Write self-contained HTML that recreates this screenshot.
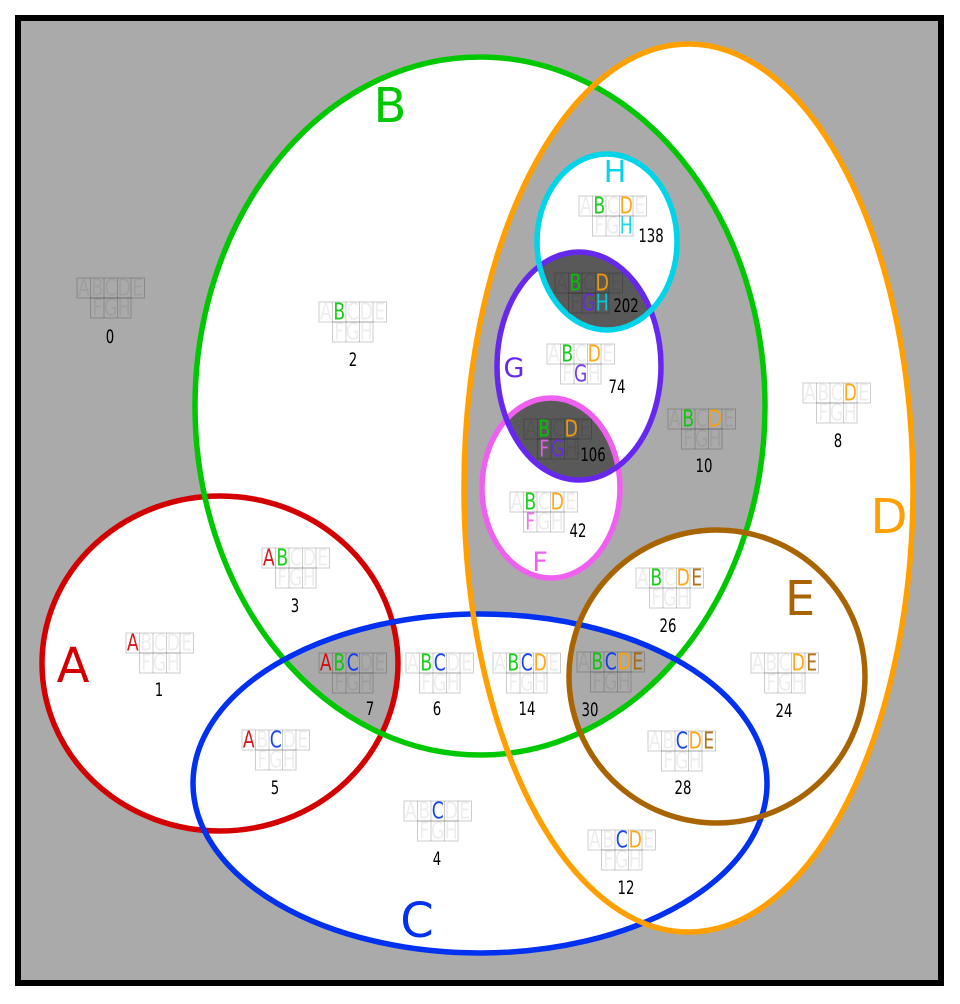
<!DOCTYPE html>
<html><head><meta charset="utf-8"><style>
html,body{margin:0;padding:0;background:#fff;}
svg{display:block;}
text{font-family:"DejaVu Sans","Liberation Sans",sans-serif;}
.bx text{font-size:23px;text-anchor:middle;}
.o{fill:rgba(0,0,0,0.07);}
.a{fill:#d40000;opacity:.9}.b{fill:#00c800;opacity:.9}.c{fill:#0030f0;opacity:.9}.d{fill:#ffa000;opacity:.9}
.e{fill:#a86400;opacity:.9}.f{fill:#f060f0;opacity:.9}.g{fill:#6628ee;opacity:.9}.h{fill:#00d4e8;opacity:.9}
.n{font-size:19px;text-anchor:middle;fill:#000;}
.big{text-anchor:middle;}
</style></head><body>
<svg width="960" height="1004" viewBox="0 0 960 1004" xmlns="http://www.w3.org/2000/svg">
<defs>
<clipPath id="cA"><ellipse cx="220" cy="663.5" rx="178" ry="167.5"/></clipPath>
<clipPath id="cB"><ellipse cx="480" cy="406" rx="285" ry="349"/></clipPath>
<clipPath id="cC"><ellipse cx="480" cy="783.5" rx="287" ry="169.5"/></clipPath>
<clipPath id="cD"><ellipse cx="688.5" cy="488" rx="224.5" ry="444"/></clipPath>
<clipPath id="cE"><ellipse cx="717" cy="676.5" rx="148" ry="146.5"/></clipPath>
<clipPath id="cG"><ellipse cx="579" cy="366" rx="82" ry="114"/></clipPath>
<g id="bx" fill="none" stroke="rgba(0,0,0,0.2)" stroke-width="1">
<rect x="0" y="0" width="67.5" height="20"/>
<path d="M13.5 0V20M27 0V40M40.5 0V40M54 0V20"/>
<rect x="13.5" y="20" width="40.5" height="20"/>
</g>
</defs>
<rect x="18" y="18" width="923" height="965" fill="#aaaaaa" stroke="#000" stroke-width="6"/>
<!-- white fills -->
<g fill="#fff">
<ellipse cx="220" cy="663.5" rx="178" ry="167.5"/>
<ellipse cx="480" cy="406" rx="285" ry="349"/>
<ellipse cx="688.5" cy="488" rx="224.5" ry="444"/>
</g>
<ellipse cx="688.5" cy="488" rx="224.5" ry="444" fill="#aaaaaa" clip-path="url(#cB)"/>
<g fill="#fff">
<ellipse cx="480" cy="783.5" rx="287" ry="169.5"/>
<ellipse cx="717" cy="676.5" rx="148" ry="146.5"/>
</g>
<g clip-path="url(#cA)"><ellipse cx="480" cy="783.5" rx="287" ry="169.5" fill="#aaaaaa" clip-path="url(#cB)"/></g>
<g clip-path="url(#cB)"><g clip-path="url(#cC)"><ellipse cx="717" cy="676.5" rx="148" ry="146.5" fill="#aaaaaa" clip-path="url(#cD)"/></g></g>
<ellipse cx="607" cy="242" rx="70" ry="88" fill="#fff"/>
<ellipse cx="579" cy="366" rx="82" ry="114" fill="#fff"/>
<ellipse cx="607" cy="242" rx="70" ry="88" fill="#595959" clip-path="url(#cG)"/>
<ellipse cx="551" cy="488" rx="69" ry="90" fill="#fff"/>
<ellipse cx="551" cy="488" rx="69" ry="90" fill="#595959" clip-path="url(#cG)"/>
<!-- outlines -->
<g fill="none" stroke-width="5.5">
<ellipse cx="220" cy="663.5" rx="178" ry="167.5" stroke="#d40000"/>
<ellipse cx="480" cy="406" rx="285" ry="349" stroke="#00c800"/>
<ellipse cx="480" cy="783.5" rx="287" ry="169.5" stroke="#0030f0"/>
<ellipse cx="688.5" cy="488" rx="224.5" ry="444" stroke="#ffa000"/>
<ellipse cx="717" cy="676.5" rx="148" ry="146.5" stroke="#a86400"/>
<ellipse cx="551" cy="488" rx="69" ry="90" stroke="#f060f0"/>
<ellipse cx="579" cy="366" rx="82" ry="114" stroke="#6628ee"/>
<ellipse cx="607" cy="242" rx="70" ry="88" stroke="#00d4e8"/>
</g>
<!-- big labels -->
<text class="big" x="73" y="682" font-size="48" fill="#d40000">A</text>
<text class="big" x="390" y="122" font-size="48" fill="#00c800">B</text>
<text class="big" x="417" y="937" font-size="48" fill="#0030f0">C</text>
<text class="big" x="889" y="533" font-size="48" fill="#ffa000">D</text>
<text class="big" x="800" y="615" font-size="48" fill="#a86400">E</text>
<text class="big" x="540" y="571" font-size="27" fill="#f060f0">F</text>
<text class="big" x="514" y="377" font-size="27" fill="#6628ee">G</text>
<text class="big" x="615" y="182" font-size="30" fill="#00d4e8">H</text>

<!-- boxes -->
<g class="bx" transform="translate(77,278)"><use href="#bx"/><g transform="scale(.75,1)"><text x="9 27 45 63 81" y="17.5"><tspan class="o">A</tspan><tspan class="o">B</tspan><tspan class="o">C</tspan><tspan class="o">D</tspan><tspan class="o">E</tspan></text><text x="27 45 63" y="37.5"><tspan class="o">F</tspan><tspan class="o">G</tspan><tspan class="o">H</tspan></text></g></g>
<text class="n" transform="translate(110,343) scale(.7,1)">0</text>

<g class="bx" transform="translate(319,302)"><use href="#bx"/><g transform="scale(.75,1)"><text x="9 27 45 63 81" y="17.5"><tspan class="o">A</tspan><tspan class="b">B</tspan><tspan class="o">C</tspan><tspan class="o">D</tspan><tspan class="o">E</tspan></text><text x="27 45 63" y="37.5"><tspan class="o">F</tspan><tspan class="o">G</tspan><tspan class="o">H</tspan></text></g></g>
<text class="n" transform="translate(353,366) scale(.7,1)">2</text>

<g class="bx" transform="translate(126,633)"><use href="#bx"/><g transform="scale(.75,1)"><text x="9 27 45 63 81" y="17.5"><tspan class="a">A</tspan><tspan class="o">B</tspan><tspan class="o">C</tspan><tspan class="o">D</tspan><tspan class="o">E</tspan></text><text x="27 45 63" y="37.5"><tspan class="o">F</tspan><tspan class="o">G</tspan><tspan class="o">H</tspan></text></g></g>
<text class="n" transform="translate(159,696) scale(.7,1)">1</text>

<g class="bx" transform="translate(242,730)"><use href="#bx"/><g transform="scale(.75,1)"><text x="9 27 45 63 81" y="17.5"><tspan class="a">A</tspan><tspan class="o">B</tspan><tspan class="c">C</tspan><tspan class="o">D</tspan><tspan class="o">E</tspan></text><text x="27 45 63" y="37.5"><tspan class="o">F</tspan><tspan class="o">G</tspan><tspan class="o">H</tspan></text></g></g>
<text class="n" transform="translate(275,794) scale(.7,1)">5</text>

<g class="bx" transform="translate(262,548)"><use href="#bx"/><g transform="scale(.75,1)"><text x="9 27 45 63 81" y="17.5"><tspan class="a">A</tspan><tspan class="b">B</tspan><tspan class="o">C</tspan><tspan class="o">D</tspan><tspan class="o">E</tspan></text><text x="27 45 63" y="37.5"><tspan class="o">F</tspan><tspan class="o">G</tspan><tspan class="o">H</tspan></text></g></g>
<text class="n" transform="translate(295,612) scale(.7,1)">3</text>

<g class="bx" transform="translate(319,653)"><use href="#bx"/><g transform="scale(.75,1)"><text x="9 27 45 63 81" y="17.5"><tspan class="a">A</tspan><tspan class="b">B</tspan><tspan class="c">C</tspan><tspan class="o">D</tspan><tspan class="o">E</tspan></text><text x="27 45 63" y="37.5"><tspan class="o">F</tspan><tspan class="o">G</tspan><tspan class="o">H</tspan></text></g></g>
<text class="n" transform="translate(370,715) scale(.7,1)">7</text>

<g class="bx" transform="translate(406,653)"><use href="#bx"/><g transform="scale(.75,1)"><text x="9 27 45 63 81" y="17.5"><tspan class="o">A</tspan><tspan class="b">B</tspan><tspan class="c">C</tspan><tspan class="o">D</tspan><tspan class="o">E</tspan></text><text x="27 45 63" y="37.5"><tspan class="o">F</tspan><tspan class="o">G</tspan><tspan class="o">H</tspan></text></g></g>
<text class="n" transform="translate(437,715) scale(.7,1)">6</text>

<g class="bx" transform="translate(493,653)"><use href="#bx"/><g transform="scale(.75,1)"><text x="9 27 45 63 81" y="17.5"><tspan class="o">A</tspan><tspan class="b">B</tspan><tspan class="c">C</tspan><tspan class="d">D</tspan><tspan class="o">E</tspan></text><text x="27 45 63" y="37.5"><tspan class="o">F</tspan><tspan class="o">G</tspan><tspan class="o">H</tspan></text></g></g>
<text class="n" transform="translate(527,715) scale(.7,1)">14</text>

<g class="bx" transform="translate(577,652)"><use href="#bx"/><g transform="scale(.75,1)"><text x="9 27 45 63 81" y="17.5"><tspan class="o">A</tspan><tspan class="b">B</tspan><tspan class="c">C</tspan><tspan class="d">D</tspan><tspan class="e">E</tspan></text><text x="27 45 63" y="37.5"><tspan class="o">F</tspan><tspan class="o">G</tspan><tspan class="o">H</tspan></text></g></g>
<text class="n" transform="translate(590,716) scale(.7,1)">30</text>

<g class="bx" transform="translate(636,568)"><use href="#bx"/><g transform="scale(.75,1)"><text x="9 27 45 63 81" y="17.5"><tspan class="o">A</tspan><tspan class="b">B</tspan><tspan class="o">C</tspan><tspan class="d">D</tspan><tspan class="e">E</tspan></text><text x="27 45 63" y="37.5"><tspan class="o">F</tspan><tspan class="o">G</tspan><tspan class="o">H</tspan></text></g></g>
<text class="n" transform="translate(668,632) scale(.7,1)">26</text>

<g class="bx" transform="translate(751,653)"><use href="#bx"/><g transform="scale(.75,1)"><text x="9 27 45 63 81" y="17.5"><tspan class="o">A</tspan><tspan class="o">B</tspan><tspan class="o">C</tspan><tspan class="d">D</tspan><tspan class="e">E</tspan></text><text x="27 45 63" y="37.5"><tspan class="o">F</tspan><tspan class="o">G</tspan><tspan class="o">H</tspan></text></g></g>
<text class="n" transform="translate(784,717) scale(.7,1)">24</text>

<g class="bx" transform="translate(648,731)"><use href="#bx"/><g transform="scale(.75,1)"><text x="9 27 45 63 81" y="17.5"><tspan class="o">A</tspan><tspan class="o">B</tspan><tspan class="c">C</tspan><tspan class="d">D</tspan><tspan class="e">E</tspan></text><text x="27 45 63" y="37.5"><tspan class="o">F</tspan><tspan class="o">G</tspan><tspan class="o">H</tspan></text></g></g>
<text class="n" transform="translate(683,794) scale(.7,1)">28</text>

<g class="bx" transform="translate(404,801)"><use href="#bx"/><g transform="scale(.75,1)"><text x="9 27 45 63 81" y="17.5"><tspan class="o">A</tspan><tspan class="o">B</tspan><tspan class="c">C</tspan><tspan class="o">D</tspan><tspan class="o">E</tspan></text><text x="27 45 63" y="37.5"><tspan class="o">F</tspan><tspan class="o">G</tspan><tspan class="o">H</tspan></text></g></g>
<text class="n" transform="translate(437,865) scale(.7,1)">4</text>

<g class="bx" transform="translate(588,830)"><use href="#bx"/><g transform="scale(.75,1)"><text x="9 27 45 63 81" y="17.5"><tspan class="o">A</tspan><tspan class="o">B</tspan><tspan class="c">C</tspan><tspan class="d">D</tspan><tspan class="o">E</tspan></text><text x="27 45 63" y="37.5"><tspan class="o">F</tspan><tspan class="o">G</tspan><tspan class="o">H</tspan></text></g></g>
<text class="n" transform="translate(626,894) scale(.7,1)">12</text>

<g class="bx" transform="translate(803,383)"><use href="#bx"/><g transform="scale(.75,1)"><text x="9 27 45 63 81" y="17.5"><tspan class="o">A</tspan><tspan class="o">B</tspan><tspan class="o">C</tspan><tspan class="d">D</tspan><tspan class="o">E</tspan></text><text x="27 45 63" y="37.5"><tspan class="o">F</tspan><tspan class="o">G</tspan><tspan class="o">H</tspan></text></g></g>
<text class="n" transform="translate(838,447) scale(.7,1)">8</text>

<g class="bx" transform="translate(668,409)"><use href="#bx"/><g transform="scale(.75,1)"><text x="9 27 45 63 81" y="17.5"><tspan class="o">A</tspan><tspan class="b">B</tspan><tspan class="o">C</tspan><tspan class="d">D</tspan><tspan class="o">E</tspan></text><text x="27 45 63" y="37.5"><tspan class="o">F</tspan><tspan class="o">G</tspan><tspan class="o">H</tspan></text></g></g>
<text class="n" transform="translate(704,472) scale(.7,1)">10</text>

<g class="bx" transform="translate(547,344)"><use href="#bx"/><g transform="scale(.75,1)"><text x="9 27 45 63 81" y="17.5"><tspan class="o">A</tspan><tspan class="b">B</tspan><tspan class="o">C</tspan><tspan class="d">D</tspan><tspan class="o">E</tspan></text><text x="27 45 63" y="37.5"><tspan class="o">F</tspan><tspan class="g">G</tspan><tspan class="o">H</tspan></text></g></g>
<text class="n" transform="translate(617,393) scale(.7,1)">74</text>

<g class="bx" transform="translate(524,419)"><use href="#bx"/><g transform="scale(.75,1)"><text x="9 27 45 63 81" y="17.5"><tspan class="o">A</tspan><tspan class="b">B</tspan><tspan class="o">C</tspan><tspan class="d">D</tspan><tspan class="o">E</tspan></text><text x="27 45 63" y="37.5"><tspan class="f">F</tspan><tspan class="g">G</tspan><tspan class="o">H</tspan></text></g></g>
<text class="n" transform="translate(593,461) scale(.7,1)">106</text>

<g class="bx" transform="translate(510,492)"><use href="#bx"/><g transform="scale(.75,1)"><text x="9 27 45 63 81" y="17.5"><tspan class="o">A</tspan><tspan class="b">B</tspan><tspan class="o">C</tspan><tspan class="d">D</tspan><tspan class="o">E</tspan></text><text x="27 45 63" y="37.5"><tspan class="f">F</tspan><tspan class="o">G</tspan><tspan class="o">H</tspan></text></g></g>
<text class="n" transform="translate(578,537) scale(.7,1)">42</text>

<g class="bx" transform="translate(579,196)"><use href="#bx"/><g transform="scale(.75,1)"><text x="9 27 45 63 81" y="17.5"><tspan class="o">A</tspan><tspan class="b">B</tspan><tspan class="o">C</tspan><tspan class="d">D</tspan><tspan class="o">E</tspan></text><text x="27 45 63" y="37.5"><tspan class="o">F</tspan><tspan class="o">G</tspan><tspan class="h">H</tspan></text></g></g>
<text class="n" transform="translate(651,242) scale(.7,1)">138</text>

<g class="bx" transform="translate(555,273)"><use href="#bx"/><g transform="scale(.75,1)"><text x="9 27 45 63 81" y="17.5"><tspan class="o">A</tspan><tspan class="b">B</tspan><tspan class="o">C</tspan><tspan class="d">D</tspan><tspan class="o">E</tspan></text><text x="27 45 63" y="37.5"><tspan class="o">F</tspan><tspan class="g">G</tspan><tspan class="h">H</tspan></text></g></g>
<text class="n" transform="translate(626,312) scale(.7,1)">202</text>
</svg>
</body></html>
